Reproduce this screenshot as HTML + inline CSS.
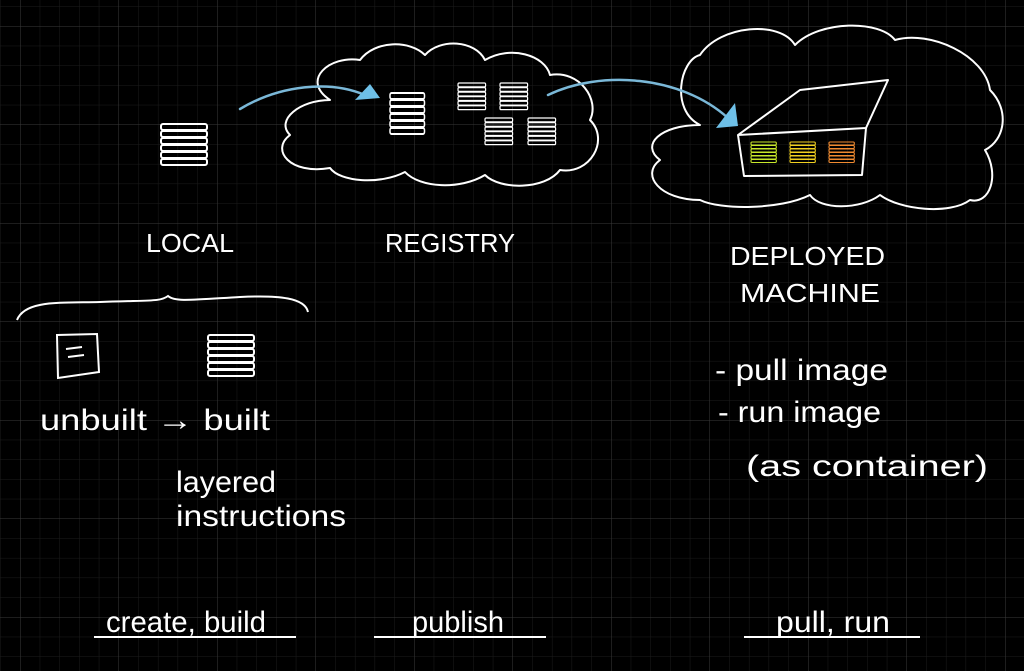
<!DOCTYPE html>
<html><head><meta charset="utf-8"><style>
html,body{margin:0;padding:0;background:#000;}
svg{display:block}
text{font-family:"Liberation Sans",sans-serif;fill:#fff;font-weight:normal}
</style></head><body>
<svg width="1024" height="671" viewBox="0 0 1024 671" xmlns="http://www.w3.org/2000/svg">
<defs>
<pattern id="fine" x="20" y="26" width="19.7" height="19.7" patternUnits="userSpaceOnUse">
<path d="M0 0H19.7M0 0V19.7" stroke="#1c1c1c" stroke-width="1" fill="none"/>
</pattern>
<pattern id="major" x="20" y="26" width="98.5" height="98.5" patternUnits="userSpaceOnUse">
<path d="M0 0H98.5M0 0V98.5" stroke="#3a3a3a" stroke-width="1" fill="none"/>
</pattern>
<g id="stack">
<rect x="0" y="0" width="46" height="6" rx="2"/>
<rect x="0" y="7" width="46" height="6" rx="2"/>
<rect x="0" y="14" width="46" height="6" rx="2"/>
<rect x="0" y="21" width="46" height="6" rx="2"/>
<rect x="0" y="28" width="46" height="6" rx="2"/>
<rect x="0" y="35" width="46" height="6" rx="2"/>
</g>
</defs>
<rect width="1024" height="671" fill="#000"/>
<rect width="1024" height="671" fill="url(#fine)"/>
<rect width="1024" height="671" fill="url(#major)"/>

<g fill="none" stroke="#fff" stroke-width="2" stroke-linecap="round" stroke-linejoin="round">
<!-- local stack -->
<use href="#stack" transform="translate(161,124)"/>
<!-- registry cloud -->
<path d="M330 100 C300 80 330 55 360 60 C375 40 410 40 425 55 C440 38 475 40 485 60 C510 45 545 55 550 75 C580 70 600 100 590 120 C610 140 590 175 560 170 C545 190 500 190 485 175 C460 190 420 188 405 172 C380 185 340 182 330 168 C290 175 270 150 290 135 C275 120 300 100 330 100 Z"/>
<use href="#stack" transform="translate(390,93) scale(0.75,1)"/>
<use href="#stack" transform="translate(458,83) scale(0.6,0.65)"/>
<use href="#stack" transform="translate(500,83) scale(0.6,0.65)"/>
<use href="#stack" transform="translate(485,118) scale(0.6,0.65)"/>
<use href="#stack" transform="translate(528,118) scale(0.6,0.65)"/>
<!-- deployed cloud -->
<path d="M700 125 C670 110 680 60 700 55 C720 25 780 20 795 45 C820 20 880 20 895 40 C930 30 985 55 990 90 C1010 110 1005 140 985 150 C1000 175 990 205 970 200 C950 215 900 210 880 195 C860 210 820 210 810 195 C780 210 720 210 700 200 C660 200 640 175 660 160 C640 145 660 125 700 125 Z"/>
<!-- machine -->
<path d="M738 135 L800 90 L888 80 L866 128 L862 175 L744 176 Z M738 135 L866 128"/>
</g>
<!-- colored stacks -->
<g fill="none" stroke-width="2">
<use href="#stack" transform="translate(751,142) scale(0.55,0.5)" stroke="#c8e82a"/>
<use href="#stack" transform="translate(790,142) scale(0.55,0.5)" stroke="#f0d020"/>
<use href="#stack" transform="translate(829,142) scale(0.55,0.5)" stroke="#f08a30"/>
</g>
<!-- blue arrows -->
<g fill="none" stroke="#7ab8d8" stroke-width="2.5" stroke-linecap="round">
<path d="M240 109 C280 85 330 80 365 95"/>
<path d="M548 95 C600 70 680 75 728 118"/>
</g>
<polygon points="355,100 370,84 380,98" fill="#6ec0e8"/>
<polygon points="716,128 735,103 738,126" fill="#6ec0e8"/>

<!-- brace -->
<path d="M17 320 C25 300 60 303 100 302 C150 300 160 302 168 296 C175 302 190 300 240 297 C280 295 305 298 308 312" fill="none" stroke="#fff" stroke-width="2"/>
<!-- unbuilt doc -->
<g fill="none" stroke="#fff" stroke-width="2">
<path d="M57 335 L97 334 L99 372 L58 378 Z"/>
<path d="M66 349 L82 347 M68 357 L84 355"/>
<use href="#stack" transform="translate(208,335)"/>
</g>

<g font-size="26">
<text x="146" y="252" textLength="88" lengthAdjust="spacingAndGlyphs">LOCAL</text>
<text x="385" y="252" textLength="130" lengthAdjust="spacingAndGlyphs">REGISTRY</text>
<text x="730" y="265" textLength="155" lengthAdjust="spacingAndGlyphs">DEPLOYED</text>
<text x="740" y="302" textLength="140" lengthAdjust="spacingAndGlyphs">MACHINE</text>
</g>
<g font-size="30">
<text x="40" y="430" textLength="230" lengthAdjust="spacingAndGlyphs">unbuilt → built</text>
<text x="176" y="492" textLength="100" lengthAdjust="spacingAndGlyphs">layered</text>
<text x="176" y="526" textLength="170" lengthAdjust="spacingAndGlyphs">instructions</text>
<text x="715" y="380" textLength="173" lengthAdjust="spacingAndGlyphs">- pull image</text>
<text x="718" y="422" textLength="163" lengthAdjust="spacingAndGlyphs">- run image</text>
<text x="746" y="476" textLength="242" lengthAdjust="spacingAndGlyphs">(as container)</text>
<text x="106" y="632" textLength="160" lengthAdjust="spacingAndGlyphs">create, build</text>
<text x="412" y="632" textLength="92" lengthAdjust="spacingAndGlyphs">publish</text>
<text x="776" y="632" textLength="114" lengthAdjust="spacingAndGlyphs">pull, run</text>
</g>
<g stroke="#fff" stroke-width="2">
<line x1="94" y1="637" x2="296" y2="637"/>
<line x1="374" y1="637" x2="546" y2="637"/>
<line x1="744" y1="637" x2="920" y2="637"/>
</g>
</svg>
</body></html>
